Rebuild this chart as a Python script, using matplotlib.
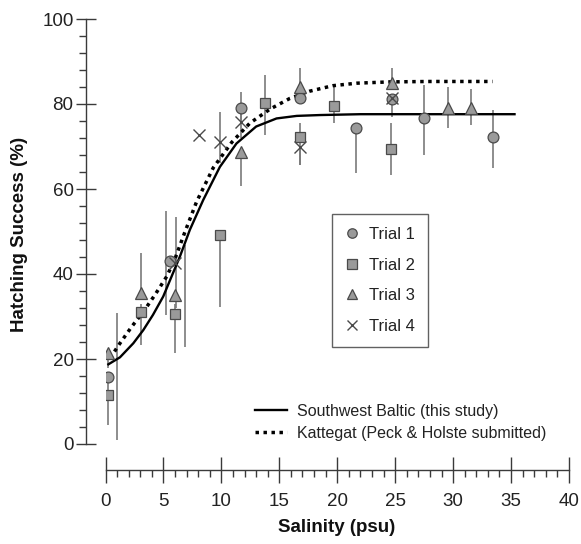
import numpy as np
import matplotlib
matplotlib.use("Agg")
import matplotlib.pyplot as plt
from matplotlib.lines import Line2D
from matplotlib.ticker import MultipleLocator

plt.rcParams['font.family'] = ['Liberation Sans', 'DejaVu Sans']

# ---------------- data ----------------
# Trial 1 (circles)
t1_x = [0.2, 5.6, 11.7, 16.8, 21.65, 24.7, 27.5, 33.4]
t1_y = [15.8, 43.0, 79.0, 81.3, 74.4, 81.2, 76.6, 72.3]
t1_ex = [0.97, 5.2, 11.7, 16.8, 21.65, 24.7, 27.5, 33.4]
t1_lo = [1.0, 30.4, 75.5, 81.3, 63.8, 81.2, 68.0, 65.0]
t1_hi = [30.8, 54.9, 82.9, 81.3, 74.4, 81.2, 84.5, 78.6]

# Trial 2 (squares)
t2_x = [0.2, 3.1, 6.0, 9.9, 13.75, 16.8, 19.7, 24.6]
t2_y = [11.5, 31.0, 30.6, 49.2, 80.2, 72.3, 79.6, 69.3]
t2_ex = [0.2, 3.1, 6.0, 9.9, 13.75, 16.8, 19.7, 24.6]
t2_lo = [4.5, 23.3, 21.4, 32.3, 72.7, 65.6, 75.6, 63.3]
t2_hi = [16.0, 33.0, 33.0, 49.2, 86.8, 75.5, 84.2, 75.6]

# Trial 3 (triangles)
t3_x = [0.2, 3.1, 6.0, 11.7, 16.8, 24.7, 29.6, 31.5]
t3_y = [21.4, 35.5, 35.0, 68.8, 83.9, 84.9, 79.0, 79.0]
t3_ex = [0.2, 3.1, 6.85, 11.7, 16.8, 24.7, 29.6, 31.5]
t3_lo = [18.0, 35.5, 22.8, 60.7, 83.9, 84.9, 74.3, 75.0]
t3_hi = [21.4, 45.0, 46.8, 68.8, 88.4, 88.5, 84.0, 83.5]

# Trial 4 (crosses)
t4_x = [6.0, 8.06, 9.87, 11.7, 16.8, 24.7]
t4_y = [42.7, 72.7, 71.1, 75.8, 70.0, 81.3]
t4_ex = [6.05, 8.06, 9.87, 11.7, 16.8, 24.7]
t4_lo = [32.0, 72.7, 66.1, 72.0, 65.6, 77.0]
t4_hi = [53.3, 72.7, 78.2, 79.0, 70.0, 81.3]

# Fitted curves
sw_x = [0.16, 1.25, 2.4, 3.26, 4.1, 4.98, 5.7, 6.42, 7.28, 8.43, 9.87, 11.3,
        13.0, 14.76, 16.5, 18.5, 22.0, 26.0, 30.0, 35.4]
sw_y = [18.6, 20.4, 23.7, 26.8, 30.4, 34.7, 39.4, 44.1, 50.4, 57.4, 65.2, 70.7,
        74.7, 76.6, 77.2, 77.4, 77.6, 77.6, 77.6, 77.6]
kat_x = [0.39, 1.25, 2.26, 3.26, 4.27, 5.28, 6.0, 6.8, 7.86, 9.3, 10.9, 12.46,
         14.2, 15.9, 17.6, 19.6, 21.7, 24.5, 28.0, 33.4]
kat_y = [20.2, 23.7, 27.6, 31.1, 35.1, 39.4, 43.6, 49.5, 57.0, 65.0, 71.0, 75.5,
         78.8, 81.3, 83.0, 84.3, 84.9, 85.2, 85.3, 85.3]

trial_labels = ["Trial 1", "Trial 2", "Trial 3", "Trial 4"]
curve_labels = ["Southwest Baltic (this study)", "Kattegat (Peck & Holste submitted)"]
x_ticks = [0, 5, 10, 15, 20, 25, 30, 35, 40]
y_ticks = [0, 20, 40, 60, 80, 100]

# ---------------- figure ----------------
W, H = 581, 544
fig = plt.figure(figsize=(W / 100, H / 100), dpi=100)
ax = fig.add_axes([105.5 / W, 1 - 444 / H, (569 - 105.5) / W, (444 - 19) / H])
ax.set_xlim(0, 40)
ax.set_ylim(0, 100)

fill = '#9a9a9a'
edge = '#4a4a4a'
ebc = '#7a7a7a'

trials = [
    (t1_x, t1_y, t1_ex, t1_lo, t1_hi, 'o', 7.8),
    (t2_x, t2_y, t2_ex, t2_lo, t2_hi, 's', 7.2),
    (t3_x, t3_y, t3_ex, t3_lo, t3_hi, '^', 8.8),
    (t4_x, t4_y, t4_ex, t4_lo, t4_hi, 'x', 8.8),
]

for (x, y, ex, lo, hi, m, ms) in trials:
    ax.vlines(ex, lo, hi, colors=ebc, linewidth=1.2, zorder=1)

ax.plot(sw_x, sw_y, color='black', lw=1.7, zorder=2, solid_capstyle='butt')
ax.plot(kat_x, kat_y, color='black', lw=2.5, linestyle=(0, (1, 1.3)), zorder=2)

handles = []
for (x, y, ex, lo, hi, m, ms), lab in zip(trials, trial_labels):
    if m == 'x':
        ax.plot(x, y, linestyle='none', marker='x', ms=ms, mec=edge, mew=1.0, zorder=3)
        handles.append(Line2D([], [], linestyle='none', marker='x', ms=7.5, mec=edge, mew=1.0, label=lab))
    else:
        ax.plot(x, y, linestyle='none', marker=m, ms=ms, mfc=fill, mec=edge, mew=0.9, zorder=3)
        handles.append(Line2D([], [], linestyle='none', marker=m, ms=6.8, mfc=fill, mec=edge, mew=0.9, label=lab))

# spines
for s in ['top', 'right']:
    ax.spines[s].set_visible(False)
ax.spines['left'].set_position(('outward', 14))
ax.spines['bottom'].set_position(('outward', 19))
for s in ['left', 'bottom']:
    ax.spines[s].set_color('#3a3a3a')
    ax.spines[s].set_linewidth(1.0)

ax.set_xticks(x_ticks)
ax.set_yticks(y_ticks)
ax.xaxis.set_minor_locator(MultipleLocator(1))
ax.yaxis.set_minor_locator(MultipleLocator(4))
ax.tick_params(axis='y', which='major', direction='inout', length=14, width=1.0, color='#3a3a3a',
               labelsize=13.5, labelcolor='#222222', pad=2)
ax.tick_params(axis='y', which='minor', direction='out', length=5, width=1.0, color='#3a3a3a')
ax.tick_params(axis='x', which='major', direction='inout', length=19, width=1.0, color='#3a3a3a',
               labelsize=13.5, labelcolor='#222222', pad=7)
ax.tick_params(axis='x', which='minor', direction='out', length=5, width=1.0, color='#3a3a3a')

fig.text(20 / W, 1 - 234 / H, "Hatching Success (%)", rotation=90, ha='center', va='center',
         fontsize=13.5, fontweight='bold', color='#111111')
fig.text(337 / W, 1 - 527 / H, "Salinity (psu)", ha='center', va='center',
         fontsize=13.5, fontweight='bold', color='#111111')

leg1 = ax.legend(handles=handles, loc='upper left', bbox_to_anchor=(331.7 / W, 1 - 214 / H),
                 bbox_transform=fig.transFigure, fontsize=12, frameon=True, fancybox=False,
                 borderpad=0.8, handlelength=0.85, handletextpad=0.56, labelspacing=0.93,
                 borderaxespad=0)
leg1.get_frame().set_edgecolor('#3a3a3a')
leg1.get_frame().set_linewidth(1.0)
for t in leg1.get_texts():
    t.set_color('#222222')
ax.add_artist(leg1)

line_handles = [Line2D([], [], color='black', lw=1.7),
                Line2D([], [], color='black', lw=2.5, linestyle=(0, (1, 1.3)))]
leg2 = ax.legend(handles=line_handles, labels=curve_labels, loc='upper left',
                 bbox_to_anchor=(255 / W, 1 - 404 / H), bbox_transform=fig.transFigure,
                 fontsize=11.5, frameon=False, borderpad=0, handlelength=2.0,
                 handletextpad=0.6, labelspacing=0.42, borderaxespad=0)
for t in leg2.get_texts():
    t.set_color('#222222')

fig.savefig('out.png', dpi=100)
